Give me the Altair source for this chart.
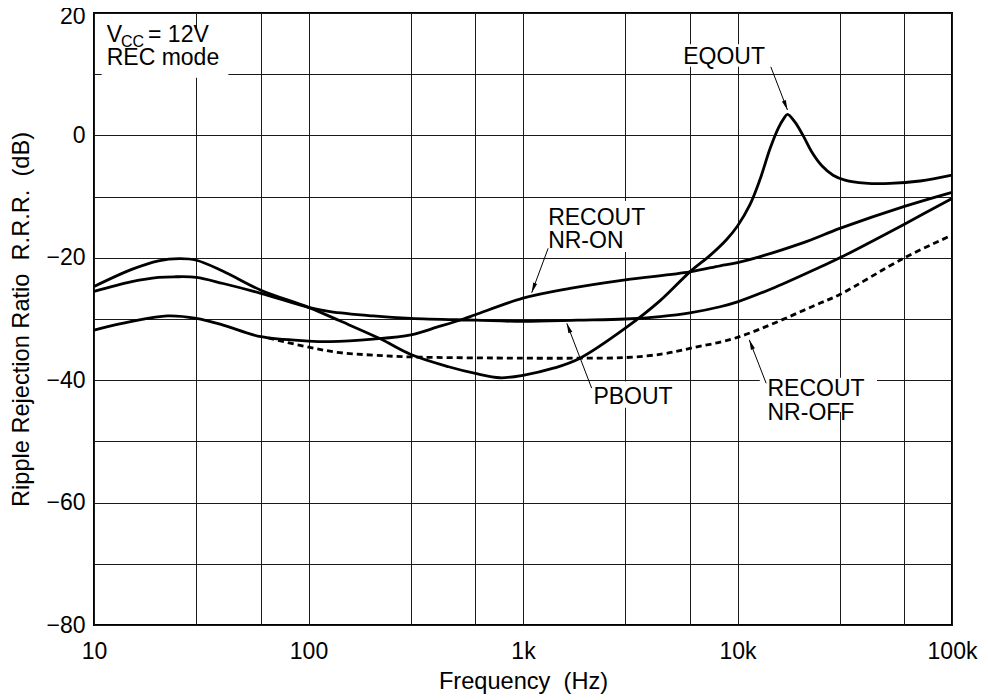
import math
import altair as alt
import pandas as pd

FONT = "Liberation Sans"
FS = 23
TFS = 23.6

# ---------------- curve data (frequency in Hz, ripple rejection in dB) ----------------
eq_f = [10, 15, 20, 25, 30, 40, 60, 100, 140, 215, 300, 450, 600, 780, 1000, 1400, 1845,
        3000, 4360, 6000, 7450, 8900, 10000, 11400, 12700, 14200, 15500, 16400, 17100,
        18500, 20200, 22200, 24800, 27900, 31700, 39300, 51400, 71000, 100000]
eq_db = [-24.7, -21.9, -20.5, -20.15, -20.4, -22.2, -25.3, -28.1, -30.3, -33.2, -35.8,
         -37.8, -38.9, -39.6, -39.2, -38.0, -36.4, -31.5, -27.0, -22.3, -19.6, -17.0, -14.8,
         -11.4, -7.3, -2.1, 1.2, 2.7, 3.45, 2.2, 0.0, -2.7, -5.0, -6.5, -7.3, -7.8, -7.85,
         -7.45, -6.5]

pb_f = [10, 15, 20, 24, 30, 40, 60, 100, 126, 200, 300, 600, 1000, 1800, 3000, 4360, 6000,
        8300, 10000, 15000, 24300, 30000, 60000, 100000]
pb_db = [-25.5, -23.9, -23.2, -23.1, -23.2, -24.2, -25.8, -28.1, -28.8, -29.5, -29.9, -30.2,
         -30.4, -30.2, -30.0, -29.6, -29.0, -28.0, -27.2, -24.8, -21.5, -20.0, -14.5, -10.3]

on_f = [10, 15, 22, 30, 40, 60, 100, 126, 200, 300, 400, 527, 600, 1000, 1656, 3000, 6000,
        8300, 10000, 20000, 30000, 60000, 100000]
on_db = [-31.8, -30.4, -29.5, -29.9, -31.0, -32.9, -33.6, -33.7, -33.3, -32.6, -31.3, -30.0,
         -29.3, -26.6, -25.0, -23.6, -22.3, -21.3, -20.8, -17.6, -15.2, -11.6, -9.3]

off_f = [65, 100, 140, 200, 300, 1000, 1800, 3000, 4500, 6000, 10000, 24300, 30000, 60000, 100000]
off_db = [-33.1, -34.6, -35.5, -35.9, -36.2, -36.4, -36.4, -36.3, -35.7, -34.8, -33.0, -27.4,
          -26.0, -20.0, -16.3]

# ---------------- axes ----------------
x_grid = [10, 30, 60, 100, 300, 600, 1000, 3000, 6000, 10000, 30000, 60000, 100000]
x_label_vals = [10, 100, 1000, 10000, 100000]
x_label_text = ["10", "100", "1k", "10k", "100k"]
y_grid = [-80, -70, -60, -50, -40, -30, -20, -10, 0, 10, 20]

# ---------------- annotations (data coordinates) ----------------
ann_text = ["V", "= 12V", "REC mode", "EQOUT", "RECOUT", "NR-ON", "PBOUT", "RECOUT", "NR-OFF"]
ann_f = [11.46, 17.86, 11.46, 5580, 1310, 1310, 2130, 13800, 13800]
ann_db = [15.3, 15.3, 11.5, 11.67, -14.64, -18.45, -43.9, -42.6, -46.5]

sub_text = ["CC"]
sub_f = [13.37]
sub_db = [14.5]

box_f = [10.86, 5400, 1266, 2050, 12700]
box_f2 = [42.3, 14200, 3910, 5280, 44700]
box_db = [17.2, 14.9, -10.7, -40.2, -39.6]
box_db2 = [9.4, 11.2, -19.05, -44.5, -45.2]

arr_f = [14300, 1310, 2090, 13600]
arr_db = [11.2, -18.45, -41.3, -40.5]
arr_f2 = [17100, 1098, 1600, 11350]
arr_db2 = [4.15, -25.7, -30.7, -33.4]

# ---------------- geometry ----------------
W, H = 858, 612
XMIN, XMAX = 10, 100000
YMIN, YMAX = -80, 20


def to_px(f, db):
    x = W * (math.log10(f) - math.log10(XMIN)) / (math.log10(XMAX) - math.log10(XMIN))
    y = H * (YMAX - db) / (YMAX - YMIN)
    return x, y


angles = []
for f1, d1, f2, d2 in zip(arr_f, arr_db, arr_f2, arr_db2):
    x1, y1 = to_px(f1, d1)
    x2, y2 = to_px(f2, d2)
    angles.append(math.degrees(math.atan2(x2 - x1, -(y2 - y1))) % 360)

curves = pd.concat([
    pd.DataFrame({"series": "EQOUT", "f": eq_f, "db": eq_db}),
    pd.DataFrame({"series": "PBOUT", "f": pb_f, "db": pb_db}),
    pd.DataFrame({"series": "RECOUT NR-ON", "f": on_f, "db": on_db}),
], ignore_index=True)
dashed = pd.DataFrame({"series": "RECOUT NR-OFF", "f": off_f, "db": off_db})
ann = pd.DataFrame({"f": ann_f, "db": ann_db, "text": ann_text})
sub = pd.DataFrame({"f": sub_f, "db": sub_db, "text": sub_text})
boxes = pd.DataFrame({"f": box_f, "f2": box_f2, "db": box_db, "db2": box_db2})
arrows = pd.DataFrame({"f": arr_f, "db": arr_db, "f2": arr_f2, "db2": arr_db2, "angle": angles})

label_expr = "".join(f"datum.value == {v} ? '{t}' : " for v, t in zip(x_label_vals, x_label_text)) + "''"

x_scale = alt.Scale(type="log", domain=[XMIN, XMAX], nice=False)
y_scale = alt.Scale(domain=[YMIN, YMAX], nice=False, zero=False)

x_axis = alt.Axis(values=x_grid, labelExpr=label_expr, grid=True, domain=False, ticks=False,
                  tickSize=0, labelFlush=False, labelOverlap=False, labelPadding=33,
                  labelBaseline="alphabetic", labelAlign="center",
                  title="Frequency\u00a0 (Hz)", titleX=W / 2, titleY=63,
                  titleBaseline="alphabetic", titleAlign="center")
y_axis = alt.Axis(values=y_grid, labelExpr="datum.value % 20 == 0 ? datum.label : ''",
                  grid=True, domain=False, ticks=False, tickSize=0, labelPadding=9,
                  labelOverlap=False, labelFlush=False,
                  labelOffset={"condition": {"test": "datum.value == 20", "value": 3}, "value": 0},
                  title="Ripple Rejection Ratio\u00a0 R.R.R.\u00a0 (dB)", titleX=-66, titleY=H / 2,
                  titleAngle=270, titleBaseline="alphabetic", titleAlign="center")

X = alt.X("f:Q", scale=x_scale, axis=x_axis)
Y = alt.Y("db:Q", scale=y_scale, axis=y_axis)

rects = alt.Chart(boxes).mark_rect(fill="white").encode(
    x=X, x2=alt.X2("f2"), y=Y, y2=alt.Y2("db2"))

solid = alt.Chart(curves).mark_line(color="black", strokeWidth=2.8, interpolate="catmull-rom").encode(
    x=X, y=Y, detail="series:N", order="f:Q")

dash = alt.Chart(dashed).mark_line(color="black", strokeWidth=2.8, strokeDash=[6, 4],
                                   interpolate="catmull-rom").encode(x=X, y=Y, order="f:Q")

texts = alt.Chart(ann).mark_text(font=FONT, fontSize=FS, align="left", baseline="alphabetic",
                                 color="black").encode(x=X, y=Y, text="text:N")
subs = alt.Chart(sub).mark_text(font=FONT, fontSize=16, align="left", baseline="alphabetic",
                                color="black").encode(x=X, y=Y, text="text:N")

shafts = alt.Chart(arrows).mark_rule(color="black", strokeWidth=1).encode(
    x=X, y=Y, x2=alt.X2("f2"), y2=alt.Y2("db2"))
heads = alt.Chart(arrows).mark_point(shape="M0,0L-0.42,2L0.42,2Z", filled=True, size=100,
                                     color="black", opacity=1, strokeWidth=0).encode(
    x=alt.X("f2:Q", scale=x_scale, axis=x_axis), y=alt.Y("db2:Q", scale=y_scale, axis=y_axis),
    angle=alt.Angle("angle:Q", scale=None))

chart = alt.layer(rects, solid, dash, texts, subs, shafts, heads).properties(
    width=W, height=H,
    autosize=alt.AutoSizeParams(type="none"),
    padding={"left": 86, "top": 5, "right": 26, "bottom": 72},
).configure_axis(
    labelFont=FONT, labelFontSize=FS, labelColor="black",
    titleFont=FONT, titleFontSize=TFS, titleFontWeight="normal", titleColor="black",
    gridColor="#1a1a1a", gridWidth=1, gridOpacity=1,
).configure_view(stroke="black", strokeWidth=2)

chart.save("out.html", embed_options={"renderer": "svg", "actions": False})
